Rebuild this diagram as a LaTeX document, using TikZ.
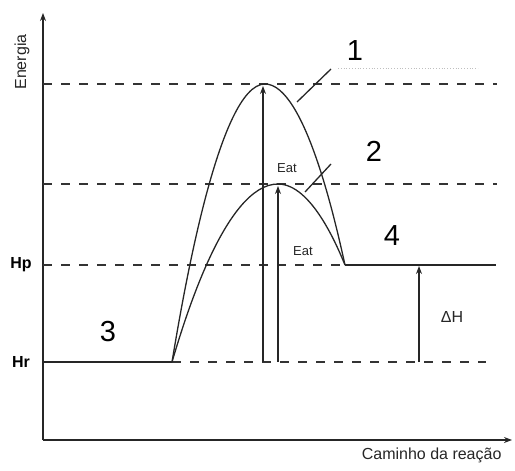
\documentclass[tikz,border=0pt]{standalone}
\usepackage{fontspec}
\setmainfont{Liberation Sans}
\usetikzlibrary{arrows.meta}
\begin{document}
\begin{tikzpicture}[x=1pt,y=-1pt,
  ln/.style={line width=1.3pt, black!85},
  dsh/.style={line width=1.4pt, black!80, dash pattern=on 9pt off 9pt},
  arr/.style={ln, -{Stealth[length=8pt,width=6pt]}},
  big/.style={font=\fontsize{29}{30}\selectfont},
  small/.style={font=\fontsize{13}{14}\selectfont, black!85},
  lbl/.style={font=\fontsize{16}{17}\selectfont, black!85},
  faint/.style={line width=0.8pt, black!25, dotted}]
\useasboundingbox (0,0) rectangle (515,471);
% axes
\coordinate (O) at (43,440);
\coordinate (Ytop) at (43,13);
\coordinate (Xend) at (512,440);
\draw[arr] (O) -- (Ytop);
\draw[arr] (O) -- (Xend);
\node[lbl, rotate=90] (en) at (22,62) {Energia};
\node[lbl, anchor=north east] (cam) at (505,444) {Caminho da reação};
% levels
\coordinate (L1a) at (43,84);   \coordinate (L1b) at (497,84);
\coordinate (L2a) at (43,184);  \coordinate (L2b) at (497,184);
\coordinate (Hpa) at (43,265);  \coordinate (P) at (345,265); \coordinate (Hpb) at (496,265);
\coordinate (Hra) at (43,362);  \coordinate (R) at (172,362); \coordinate (Hrb) at (486,362);
\draw[dsh] (L1a) -- (L1b);
\draw[dsh] (L2a) -- (L2b);
\draw[dsh] (Hpa) -- (P);
\draw[ln, line width=1.4pt] (P) -- (Hpb);
\draw[ln, line width=1.4pt] (Hra) -- (R);
\draw[dsh] (R) -- (Hrb);
\node[font=\bfseries\fontsize{16}{17}\selectfont] (hp) at (21,265) {Hp};
\node[font=\bfseries\fontsize{16}{17}\selectfont] (hr) at (21,362) {Hr};
% curves
\coordinate (T1) at (265,84);
\coordinate (T2) at (278,184);
\draw[ln] (R) parabola bend (T1) (P);
\draw[ln] (R) parabola bend (T2) (P);
% Eat arrows
\coordinate (E1b) at (263,362); \coordinate (E1t) at (263,86);
\coordinate (E2b) at (278,362); \coordinate (E2t) at (278,186);
\draw[arr] (E1b) -- (E1t);
\draw[arr] (E2b) -- (E2t);
\node[small] (eat1) at (287,168) {Eat};
\node[small] (eat2) at (303,251) {Eat};
% Delta H
\coordinate (Db) at (419,362); \coordinate (Dt) at (419,266);
\draw[arr] (Db) -- (Dt);
\node[lbl] (dh) at (452,317) {ΔH};
% labels
\node[big] (n1) at (355,51) {1};
\node[big] (n2) at (374,151) {2};
\node[big] (n3) at (108,332) {3};
\node[big] (n4) at (392,236) {4};
\coordinate (c1a) at (297,102); \coordinate (c1b) at (331,69);
\coordinate (c2a) at (305,192); \coordinate (c2b) at (331,164);
\draw[ln] (c1a) -- (c1b);
\draw[ln] (c2a) -- (c2b);
\coordinate (f1a) at (338,68); \coordinate (f1b) at (478,68);
\draw[faint] (f1a) -- (f1b);
\end{tikzpicture}
\end{document}
